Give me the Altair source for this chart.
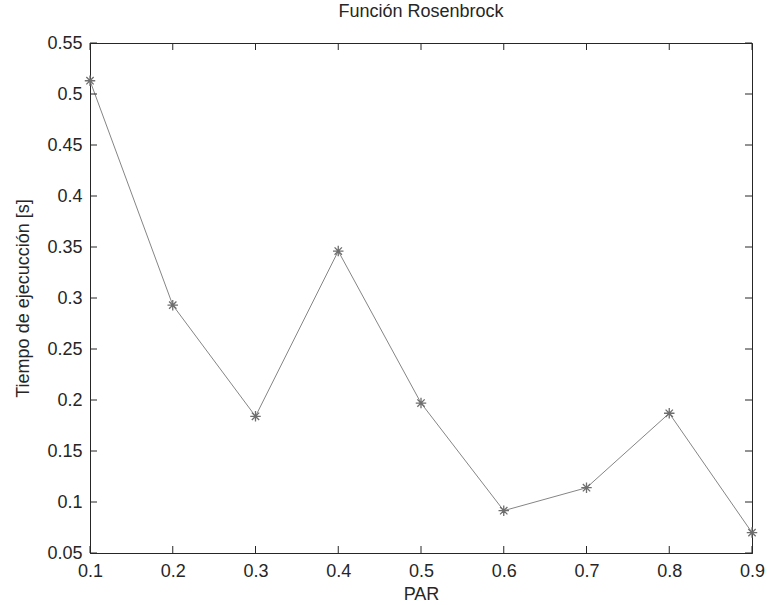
import altair as alt
import pandas as pd

# ---- data ----
par = [0.1, 0.2, 0.3, 0.4, 0.5, 0.6, 0.7, 0.8, 0.9]
tiempo = [0.513, 0.293, 0.184, 0.346, 0.197, 0.0915, 0.114, 0.187, 0.070]
x_ticks = [0.1, 0.2, 0.3, 0.4, 0.5, 0.6, 0.7, 0.8, 0.9]
y_ticks = [0.05, 0.1, 0.15, 0.2, 0.25, 0.3, 0.35, 0.4, 0.45, 0.5, 0.55]

df = pd.DataFrame({"PAR": par, "Tiempo": tiempo})
xt = pd.DataFrame({"PAR": x_ticks})
yt = pd.DataFrame({"Tiempo": y_ticks})

FONT = "Liberation Sans"
TXT = "#262626"
AX = "#262626"
W, H = 662, 510
TICK = 7

xscale = alt.Scale(domain=[0.1, 0.9], nice=False, zero=False)
yscale = alt.Scale(domain=[0.05, 0.55], nice=False, zero=False)

x_axis = alt.Axis(
    title="PAR", values=x_ticks, format=".1f", ticks=False, tickSize=0, grid=False,
    labelFont=FONT, labelFontSize=18, labelColor=TXT, labelPadding=9,
    labelOverlap=False, labelFlush=False,
    titleFont=FONT, titleFontSize=18, titleColor=TXT, titleFontWeight="normal",
    titlePadding=5, domainColor=AX, domainWidth=1,
)
y_axis = alt.Axis(
    title="Tiempo de ejecucción [s]", values=y_ticks, format=".2~f", ticks=False,
    tickSize=0, grid=False,
    labelFont=FONT, labelFontSize=18, labelColor=TXT, labelPadding=8,
    labelOverlap=False, labelFlush=False,
    titleFont=FONT, titleFontSize=18, titleColor=TXT, titleFontWeight="normal",
    titlePadding=14, domainColor=AX, domainWidth=1,
)

X = alt.X("PAR:Q", scale=xscale, axis=x_axis)
Y = alt.Y("Tiempo:Q", scale=yscale, axis=y_axis)

star = "M-1,0L1,0M0,-1L0,1M-0.7,-0.7L0.7,0.7M-0.7,0.7L0.7,-0.7"

line = alt.Chart(df).mark_line(color="#858585", strokeWidth=1).encode(x=X, y=Y)
pts = alt.Chart(df).mark_point(
    shape=star, size=110, filled=False, stroke="#6e6e6e", strokeWidth=1.3, opacity=1
).encode(x=X, y=Y)

bx = alt.Chart(xt).mark_rule(color=AX, strokeWidth=1).encode(
    x=X, y=alt.value(H), y2=alt.value(H - TICK)
)
tx = alt.Chart(xt).mark_rule(color=AX, strokeWidth=1).encode(
    x=X, y=alt.value(0), y2=alt.value(TICK)
)
ly = alt.Chart(yt).mark_rule(color=AX, strokeWidth=1).encode(
    y=Y, x=alt.value(0), x2=alt.value(TICK)
)
ry = alt.Chart(yt).mark_rule(color=AX, strokeWidth=1).encode(
    y=Y, x=alt.value(W), x2=alt.value(W - TICK)
)

chart = alt.layer(line, pts, bx, tx, ly, ry).properties(
    width=W,
    height=H,
    title=alt.TitleParams(
        "Función Rosenbrock", font=FONT, fontSize=18, fontWeight="normal",
        color=TXT, offset=13, anchor="middle",
    ),
    autosize=alt.AutoSizeParams(type="none"),
    padding={"left": 90, "top": 43, "right": 17, "bottom": 52},
    background="white",
).configure_view(stroke=AX, strokeWidth=1)

chart.save("out.html", embed_options={"renderer": "svg", "actions": False})
